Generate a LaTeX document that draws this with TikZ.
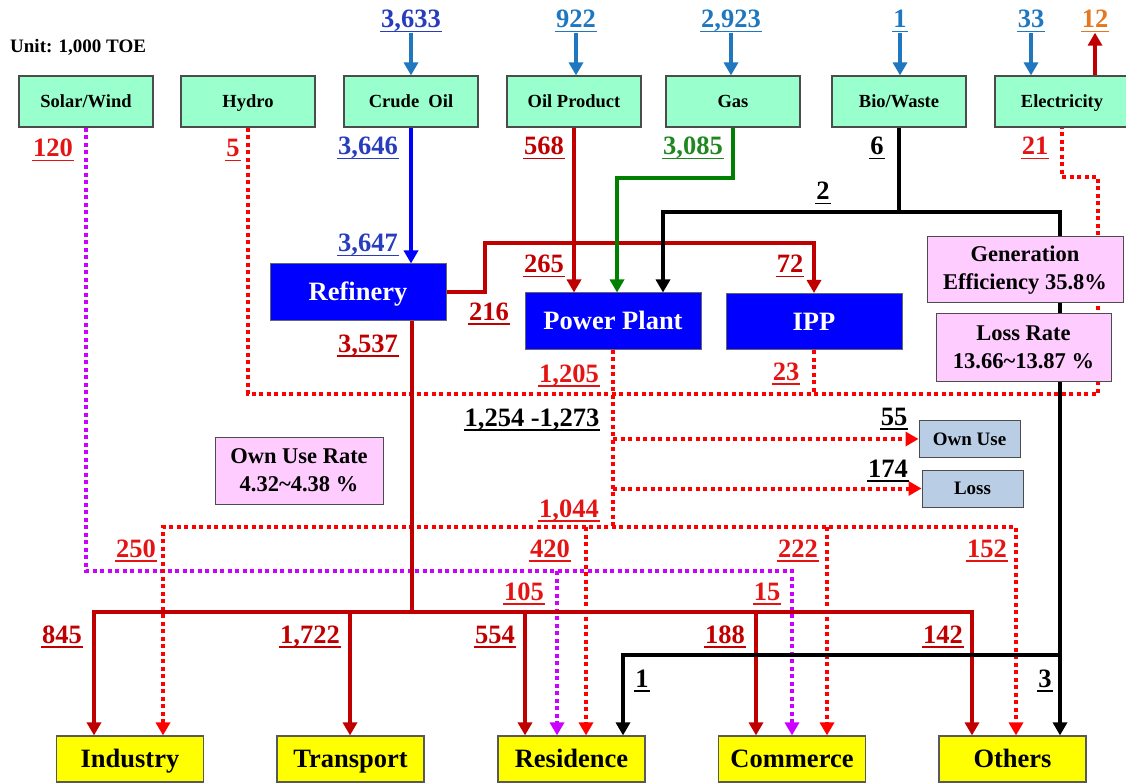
\documentclass[tikz,border=0pt]{standalone}
\usepackage{fontspec}
\setmainfont{Liberation Serif}
\usetikzlibrary{arrows.meta}

\definecolor{srcgreen}{RGB}{153,255,204}
\definecolor{plantblue}{RGB}{0,0,255}
\definecolor{notepink}{RGB}{255,204,255}
\definecolor{usegray}{RGB}{185,205,229}
\definecolor{sinkyellow}{RGB}{255,255,0}
\definecolor{steel}{RGB}{31,119,192}
\definecolor{navy}{RGB}{40,60,190}
\definecolor{oilred}{RGB}{192,0,0}
\definecolor{elecred}{RGB}{255,0,0}
\definecolor{lblred}{RGB}{228,20,20}
\definecolor{solarmag}{RGB}{204,0,255}
\definecolor{gasgreen}{RGB}{0,128,0}
\definecolor{lblgreen}{RGB}{30,135,30}
\definecolor{exporange}{RGB}{228,120,30}

\newcommand{\ulnum}[1]{\setbox0=\hbox{#1}\rlap{\kern-1pt\raisebox{-4.5pt}{\rule{\dimexpr\wd0+2pt\relax}{1.4pt}}}\box0}

\tikzset{
  src/.style= {draw=black!70, line width=1.2pt, fill=srcgreen, minimum width=134pt, minimum height=51pt, inner sep=0pt, text height=12.2pt, text depth=0pt, font=\fontsize{18.5}{20}\selectfont\bfseries},
  plant/.style= {draw=black!60, line width=1pt, fill=plantblue, text=white, minimum width=176pt, minimum height=56pt, inner sep=0pt, text height=17.5pt, text depth=0pt, font=\fontsize{26.5}{28}\selectfont\bfseries},
  sink/.style= {draw=black!65, line width=1.2pt, fill=sinkyellow, minimum width=147pt, minimum height=46pt, inner sep=0pt, text height=17.5pt, text depth=0pt, font=\fontsize{26.5}{28}\selectfont\bfseries},
  note/.style= {draw=black!70, line width=1pt, fill=notepink, align=center, inner sep=0pt, font=\fontsize{22.5}{28}\selectfont\bfseries},
  usebox/.style= {draw=black!70, line width=1pt, fill=usegray, minimum width=101pt, minimum height=37pt, inner sep=0pt, text height=12.5pt, text depth=0pt, font=\fontsize{19}{20}\selectfont\bfseries},
  num/.style= {inner sep=0pt, anchor=base, font=\fontsize{26.5}{28}\selectfont\bfseries},
  flow/.style= {line width=4.5pt},
  dotflow/.style= {line width=4pt, dash pattern=on 4pt off 3.5pt},
  arr/.style= {-{Triangle[length=13pt,width=14pt]}},
  arrs/.style= {{Triangle[length=13pt,width=14pt]}-{Triangle[length=13pt,width=14pt]}},
}

\begin{document}
\begin{tikzpicture}[x=1pt, y=-1pt]
  \useasboundingbox (0,0) rectangle (1126,783);

  \node [anchor=west, inner sep=0pt, font=\fontsize{19}{20}\selectfont\bfseries] (unit) at (10,47) {Unit: 1,000 TOE};

  % sources
  \node [src] (solar) at (86,101.5) {Solar/Wind};
  \node [src] (hydro) at (248,101.5) {Hydro};
  \node [src] (crude) at (411,101.5) {Crude\ \ Oil};
  \node [src] (oilprod) at (574,101.5) {Oil Product};
  \node [src] (gas) at (733,101.5) {Gas};
  \node [src] (bio) at (899,101.5) {Bio/Waste};
  \node [src] (elec) at (1062,101.5) {Electricity};

  % conversion
  \node [plant] (refinery) at (358,292) {Refinery};
  \node [plant] (pplant) at (613,321) {Power Plant};
  \node [plant] (ipp) at (814,321.5) {IPP};

  \node [usebox] (ownuse) at (969.5,439) {Own Use};
  \node [usebox] (loss) at (972.5,488.5) {Loss};

  % final use
  \node [sink] (ind) at (130,759) {Industry};
  \node [sink] (trans) at (350.5,759) {Transport};
  \node [sink] (res) at (571.5,759) {Residence};
  \node [sink] (com) at (792,759) {Commerce};
  \node [sink] (oth) at (1012.5,759) {Others};

  % imports / exports
  \node [num, text=navy] (i-crude) at (411,28) {\ulnum{3,633}};
  \node [num, text=steel] (i-oil) at (576,28) {\ulnum{922}};
  \node [num, text=steel] (i-gas) at (731,28) {\ulnum{2,923}};
  \node [num, text=steel] (i-bio) at (900,28) {\ulnum{1}};
  \node [num, text=steel] (i-elec) at (1031,28) {\ulnum{33}};
  \node [num, text=exporange] (x-elec) at (1095,28) {\ulnum{12}};

  \draw [flow, steel, arr] (i-crude.south) -- (i-crude.south |- crude.north);
  \draw [flow, steel, arr] (i-oil.south) -- (i-oil.south |- oilprod.north);
  \draw [flow, steel, arr] (i-gas.south) -- (i-gas.south |- gas.north);
  \draw [flow, steel, arr] (i-bio.south) -- (i-bio.south |- bio.north);
  \draw [flow, steel, arr] (i-elec.south) -- (i-elec.south |- elec.north);
  \draw [flow, oilred, arr] (x-elec.south |- elec.north) -- (x-elec.south);

  % junctions
  \coordinate (magR) at (792,571);
  \coordinate (magM) at (557,571);
  \coordinate (ecolR) at (1098,394);
  \coordinate (ebend) at (1098,177);
  \coordinate (distL) at (163,527);
  \coordinate (distR) at (1016,527);
  \coordinate (rtop) at (485,243);
  \coordinate (refbus) at (412,612);
  \coordinate (busL) at (94,612);
  \coordinate (busR) at (972,612);
  \coordinate (gbend) at (617,178);
  \coordinate (bioL) at (663,212);
  \coordinate (bioR) at (1060,212);
  \coordinate (bioS) at (1060,655);
  \coordinate (bioRes) at (623,655);

  % electricity (dotted)
  \draw [dotflow, solarmag, arr] (solar.south) |- (magR) -- (magR |- com.north);
  \draw [dotflow, solarmag, arr] (magM) -- (magM |- res.north);
  \draw [dotflow, elecred] (hydro.south) |- (ecolR) -- (ebend) -| (elec.south);
  \draw [dotflow, elecred] (ipp.south) -- (ipp.south |- ecolR);
  \draw [dotflow, elecred] (pplant.south) -- (pplant.south |- distL);
  \draw [dotflow, elecred, arr] (pplant.south |- ownuse.west) -- (ownuse.west);
  \draw [dotflow, elecred, arr] (pplant.south |- loss.west) -- (loss.west);
  \draw [dotflow, elecred, arrs] (distL |- ind.north) -- (distL) -- (distR) -- (distR |- oth.north);
  \foreach \x/\b in {586/res, 827/com}
    \draw [dotflow, elecred, arr] (\x,527) coordinate (tmp) -- (tmp |- \b.north);

  % oil, gas, bio (solid)
  \draw [flow, plantblue, arr] (crude.south) -- (crude.south |- refinery.north);
  \draw [flow, oilred, arr] (oilprod.south) -- (oilprod.south |- pplant.north);
  \draw [flow, oilred, arr] (refinery.east) -| (rtop) -| (ipp.north);
  \draw [flow, oilred] (refbus |- refinery.south) -- (refbus);
  \draw [flow, oilred, arrs] (busL |- ind.north) -- (busL) -- (busR) -- (busR |- oth.north);
  \foreach \x/\b in {350/trans, 525/res, 756/com}
    \draw [flow, oilred, arr] (\x,612) coordinate (tmp) -- (tmp |- \b.north);
  \draw [flow, gasgreen, arr] (gas.south) |- (gbend) -- (gbend |- pplant.north);
  \draw [flow, arr] (bio.south) |- (bioL) -- (bioL |- pplant.north);
  \draw [flow, arr] (bio.south |- bioR) -- (bioR) -- (bioR |- oth.north);
  \draw [flow, arr] (bioS) -- (bioRes) -- (bioRes |- res.north);

  % rates
  \node [note, minimum width=196pt, minimum height=66pt] (geneff) at (1025,270) {Generation\\Efficiency 35.8\%};
  \node [note, minimum width=175pt, minimum height=67pt] (lossrate) at (1023.5,347.5) {Loss Rate\\13.66\textasciitilde13.87 \%};
  \node [note, minimum width=168pt, minimum height=67pt] (ownrate) at (299,470.5) {Own Use Rate\\4.32\textasciitilde4.38 \%};

  % flow values
  \node [num, text=lblred] (v120) at (53,157) {\ulnum{120}};
  \node [num, text=lblred] (v5) at (233,157) {\ulnum{5}};
  \node [num, text=navy] (v3646) at (368,155) {\ulnum{3,646}};
  \node [num, text=oilred] (v568) at (544,155) {\ulnum{568}};
  \node [num, text=lblgreen] (v3085) at (693,155) {\ulnum{3,085}};
  \node [num] (v6) at (877,155) {\ulnum{6}};
  \node [num, text=lblred] (v21) at (1035,155) {\ulnum{21}};
  \node [num] (v2) at (823,200) {\ulnum{2}};
  \node [num, text=navy] (v3647) at (368,252) {\ulnum{3,647}};
  \node [num, text=oilred] (v265) at (544,273) {\ulnum{265}};
  \node [num, text=oilred] (v72) at (790,273) {\ulnum{72}};
  \node [num, text=oilred] (v216) at (489,320) {\ulnum{216}};
  \node [num, text=oilred] (v3537) at (368,352) {\ulnum{3,537}};
  \node [num, text=lblred] (v1205) at (569,382) {\ulnum{1,205}};
  \node [num, text=lblred] (v23) at (786,380) {\ulnum{23}};
  \node [num] (vgross) at (532,426) {\ulnum{1,254 -1,273}};
  \node [num] (v55) at (894,425) {\ulnum{55}};
  \node [num] (v174) at (888,477) {\ulnum{174}};
  \node [num, text=lblred] (v1044) at (569,517) {\ulnum{1,044}};
  \node [num, text=lblred] (v250) at (136,557) {\ulnum{250}};
  \node [num, text=lblred] (v420) at (550,557) {\ulnum{420}};
  \node [num, text=lblred] (v222) at (798,557) {\ulnum{222}};
  \node [num, text=lblred] (v152) at (987,557) {\ulnum{152}};
  \node [num, text=lblred] (v105) at (524,600) {\ulnum{105}};
  \node [num, text=lblred] (v15) at (767,600) {\ulnum{15}};
  \node [num, text=oilred] (v845) at (62,643) {\ulnum{845}};
  \node [num, text=oilred] (v1722) at (310,643) {\ulnum{1,722}};
  \node [num, text=oilred] (v554) at (495,643) {\ulnum{554}};
  \node [num, text=oilred] (v188) at (725,643) {\ulnum{188}};
  \node [num, text=oilred] (v142) at (943,643) {\ulnum{142}};
  \node [num] (v1) at (642,687) {\ulnum{1}};
  \node [num] (v3) at (1045,687) {\ulnum{3}};
\end{tikzpicture}
\end{document}
